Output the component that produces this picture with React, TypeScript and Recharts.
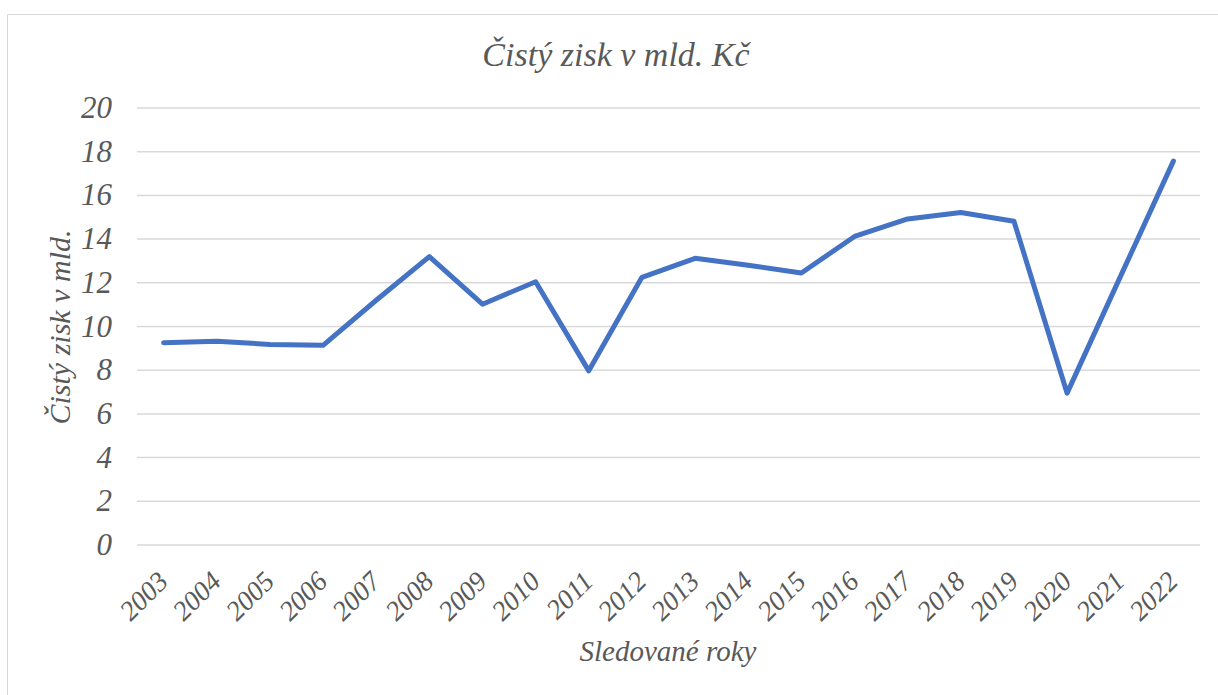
import React from "react";
import { LineChart, Line, XAxis, YAxis, CartesianGrid } from "recharts";

const years = ["2003","2004","2005","2006","2007","2008","2009","2010","2011","2012","2013","2014","2015","2016","2017","2018","2019","2020","2021","2022"];
const profit = [9.26, 9.32, 9.18, 9.14, 11.2, 13.2, 11.02, 12.05, 7.97, 12.25, 13.12, 12.8, 12.45, 14.12, 14.92, 15.22, 14.82, 6.95, 12.27, 17.57];
const yTicks = [0, 2, 4, 6, 8, 10, 12, 14, 16, 18, 20];

const title = "Čistý zisk v mld. Kč";
const yTitle = "Čistý zisk v mld.";
const xTitle = "Sledované roky";

const data = years.map((y, i) => ({ year: y, value: profit[i] }));

const FONT = "Liberation Serif, Tinos, DejaVu Serif, serif";
const TXT = "#595959";

const XTick = (props: any) => {
  const { x, y, payload } = props;
  return (
    <g transform={`translate(${x + 6},${y + 38})`}>
      <text x={0} y={0} transform="rotate(-45)" textAnchor="end" fill={TXT}
        style={{ fontFamily: FONT, fontStyle: "italic", fontSize: 27.5 }}>{payload.value}</text>
    </g>
  );
};

const YTick = (props: any) => {
  const { x, y, payload } = props;
  return (
    <text x={x} y={y} dy={10} textAnchor="end" fill={TXT}
      style={{ fontFamily: FONT, fontStyle: "italic", fontSize: 31 }}>{payload.value}</text>
  );
};

export default function App() {
  return (
    <div style={{ position: "absolute", left: 0, top: 0, width: 1218, height: 695, overflow: "hidden", background: "#fff", fontFamily: FONT }}>
      <div style={{ position: "absolute", left: 7, top: 14, width: 1211, height: 681, borderTop: "1.5px solid #d9d9d9", borderLeft: "1.5px solid #d9d9d9", boxSizing: "border-box" }} />
      <div style={{ position: "absolute", left: 0, width: 1232, top: 35, textAlign: "center", fontSize: 34, fontStyle: "italic", color: TXT, lineHeight: "40px", whiteSpace: "nowrap" }}>{title}</div>
      <div style={{ position: "absolute", left: 0, width: 1336, top: 636, textAlign: "center", fontSize: 29, fontStyle: "italic", color: TXT, lineHeight: "30px", whiteSpace: "nowrap" }}>{xTitle}</div>
      <div style={{ position: "absolute", left: 60, top: 327, width: 0, height: 0 }}>
        <div style={{ position: "absolute", left: -150, top: -16, width: 300, textAlign: "center", fontSize: 30, fontStyle: "italic", color: TXT, lineHeight: "32px", transform: "rotate(-90deg)", whiteSpace: "nowrap" }}>{yTitle}</div>
      </div>
      <div style={{ position: "absolute", left: 0, top: 0 }}>
        <LineChart width={1218} height={695} data={data} margin={{ top: 108, right: 18, bottom: 0, left: 0 }}>
          <CartesianGrid vertical={false} stroke="#d9d9d9" strokeWidth={1.5} />
          <XAxis dataKey="year" type="category" interval={0} padding={{ left: 26.6, right: 26.6 }}
            axisLine={false} tickLine={false} tickSize={0} tickMargin={0} height={150} tick={<XTick />} />
          <YAxis domain={[0, 20]} ticks={yTicks} interval={0} width={137} axisLine={false} tickLine={false}
            tickSize={0} tickMargin={25} tick={<YTick />} />
          <Line type="linear" dataKey="value" stroke="#4472C4" strokeWidth={5} dot={false}
            strokeLinejoin="round" strokeLinecap="round" isAnimationActive={false} />
        </LineChart>
      </div>
    </div>
  );
}
